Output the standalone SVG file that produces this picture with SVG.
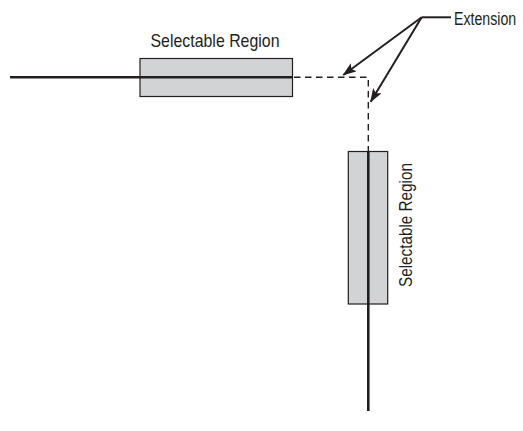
<svg xmlns="http://www.w3.org/2000/svg" width="523" height="431" viewBox="0 0 523 431">
<style>
.lbl{font-family:"Liberation Sans",Arial,sans-serif;font-size:19px;fill:#231f20}
.box{fill:#d1d3d4;stroke:#231f20;stroke-width:1.2}
.wire{stroke:#231f20;stroke-width:2.6;fill:none}
.ext{stroke:#231f20;stroke-width:1.4;fill:none;stroke-dasharray:6.5 4.5}
.lead{stroke:#231f20;stroke-width:2;fill:none}
</style>
<defs>
<marker id="ah" viewBox="0 0 14 10" refX="13" refY="5" markerWidth="14" markerHeight="10" markerUnits="userSpaceOnUse" orient="auto">
<path d="M0,0 L14,5 L0,10 L3,5 Z" fill="#231f20"/>
</marker>
</defs>
<g id="region-horizontal">
<rect class="box" x="140" y="58.5" width="152.5" height="38"/>
<line class="wire" x1="10" y1="77.3" x2="292.5" y2="77.3"/>
<text class="lbl" x="215" y="47" text-anchor="middle" textLength="129" lengthAdjust="spacingAndGlyphs">Selectable Region</text>
</g>
<g id="region-vertical">
<rect class="box" x="348.3" y="151.5" width="39.4" height="152.5"/>
<line class="wire" x1="368.3" y1="151.5" x2="368.3" y2="411"/>
<text class="lbl" transform="translate(412 225) rotate(-90)" x="0" y="0" text-anchor="middle" textLength="124" lengthAdjust="spacingAndGlyphs">Selectable Region</text>
</g>
<g id="extension-label">
<text class="lbl" transform="translate(454 25) scale(0.745 1)" x="0" y="0">Extension</text>
</g>
<g id="connectors">
<path class="ext" d="M294,77.3 H368.3 V151.5"/>
<line class="lead" x1="421.7" y1="17.3" x2="451" y2="17.3"/>
<line class="lead" x1="421.7" y1="17.3" x2="343.3" y2="75" marker-end="url(#ah)"/>
<line class="lead" x1="421.7" y1="17.3" x2="370.7" y2="101.7" marker-end="url(#ah)"/>
</g>
</svg>
